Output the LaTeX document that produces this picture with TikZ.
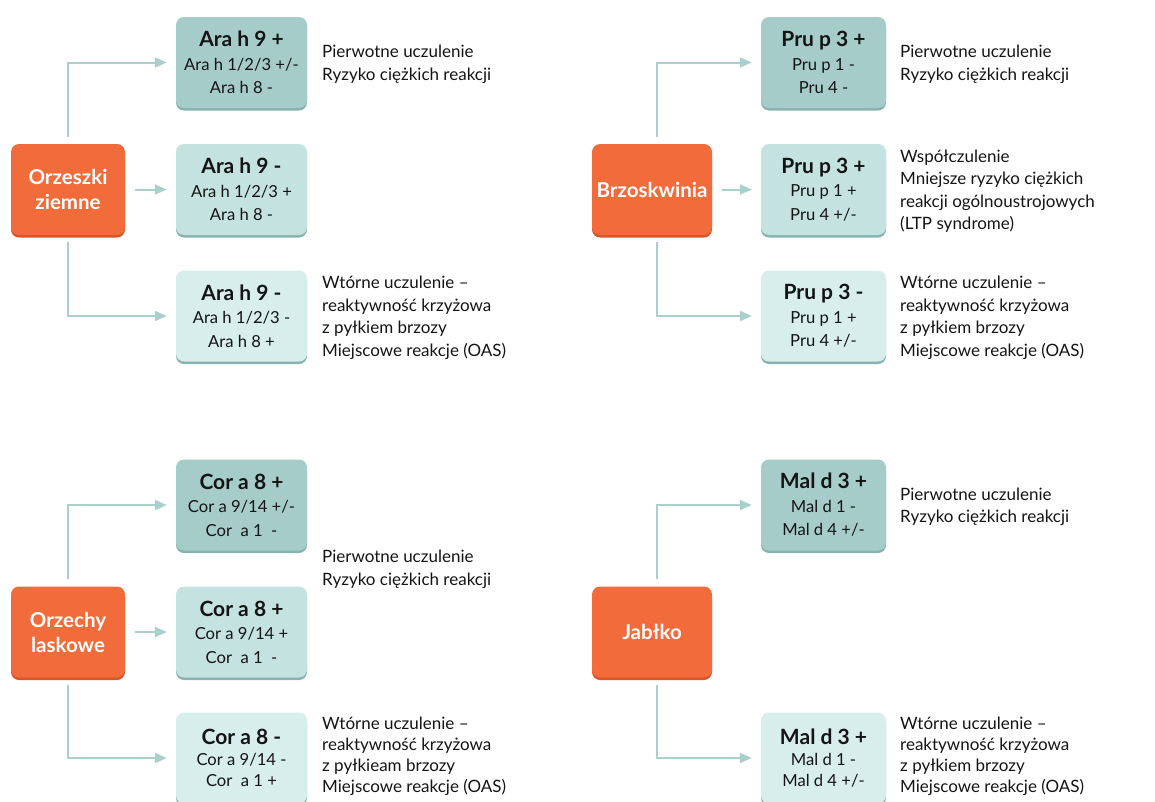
\documentclass[tikz,border=0pt]{standalone}
\usepackage{fontspec}
\setmainfont{Lato}
\usetikzlibrary{arrows.meta}
\definecolor{orng}{HTML}{F26B3B}
\definecolor{orngdark}{HTML}{D8542A}
\definecolor{tealA}{HTML}{A6CCC9}
\definecolor{tealB}{HTML}{C4E2DF}
\definecolor{tealC}{HTML}{D7EEEB}
\definecolor{tealshadow}{HTML}{86B3AF}
\definecolor{conncol}{HTML}{A9D0CD}
\definecolor{txt}{HTML}{141414}
\tikzset{
  base/.style={rounded corners=8pt, inner sep=0pt, align=center, minimum height=91pt,
    preaction={fill=#1, transform canvas={yshift=-2.5pt}}},
  food/.style={base=orngdark, fill=orng, text=white, font=\fontsize{20.5}{25}\selectfont\bfseries},
  resA/.style={base=tealshadow, fill=tealA, text=txt, font=\fontsize{16.6}{23.5}\selectfont},
  resB/.style={base=tealshadow, fill=tealB, text=txt, font=\fontsize{16.6}{23.5}\selectfont},
  resC/.style={base=tealshadow, fill=tealC, text=txt, font=\fontsize{16.6}{23.5}\selectfont},
  note/.style={anchor=west, align=left, inner sep=0pt, text=txt, font=\fontsize{17}{22.5}\selectfont},
  conn/.style={draw=conncol, line width=2pt, -{Triangle[length=12pt,width=10pt]}},
}
\newcommand{\hd}[1]{{\fontsize{21}{23.5}\selectfont\bfseries #1}}
\begin{document}
\begin{tikzpicture}[x=1pt,y=-1pt]
\useasboundingbox (0,0) rectangle (1155,801);
% ---------- Orzeszki ziemne ----------
\node[food, minimum width=114pt] (oz) at (68,189.5) {Orzeszki\\ziemne};
\node[resA, minimum width=131pt] (a1) at (241.5,62.5) {\hd{Ara h 9 +}\\Ara h 1/2/3 +/-\\Ara h 8 -};
\node[resB, minimum width=131pt] (a2) at (241.5,189.5) {\hd{Ara h 9 -}\\Ara h 1/2/3 +\\Ara h 8 -};
\node[resC, minimum width=131pt] (a3) at (241.5,316) {\hd{Ara h 9 -}\\Ara h 1/2/3 -\\Ara h 8 +};
\node[note] (ta1) at (322,64.5) {Pierwotne uczulenie\\Ryzyko ciężkich reakcji};
\node[note] (ta3) at (322,318) {Wtórne uczulenie –\\reaktywność krzyżowa\\z pyłkiem brzozy\\Miejscowe reakcje (OAS)};
\draw[conn, shorten <=7pt, shorten >=9pt] (oz.north) |- (a1.west);
\draw[conn, shorten <=10pt, shorten >=9pt] (oz.east) -- (a2.west);
\draw[conn, shorten <=7pt, shorten >=9pt] (oz.south) |- (a3.west);
% ---------- Brzoskwinia ----------
\node[food, minimum width=120pt] (br) at (652,189.5) {Brzoskwinia};
\node[resA, minimum width=125pt] (p1) at (823.5,62.5) {\hd{Pru p 3 +}\\Pru p 1 -\\Pru 4 -};
\node[resB, minimum width=125pt] (p2) at (823.5,189.5) {\hd{Pru p 3 +}\\Pru p 1 +\\Pru 4 +/-};
\node[resC, minimum width=125pt] (p3) at (823.5,316) {\hd{Pru p 3 -}\\Pru p 1 +\\Pru 4 +/-};
\node[note] (tp1) at (900,64.5) {Pierwotne uczulenie\\Ryzyko ciężkich reakcji};
\node[note] (tp2) at (900,191) {Współczulenie\\Mniejsze ryzyko ciężkich\\reakcji ogólnoustrojowych\\(LTP syndrome)};
\node[note] (tp3) at (900,318) {Wtórne uczulenie –\\reaktywność krzyżowa\\z pyłkiem brzozy\\Miejscowe reakcje (OAS)};
\draw[conn, shorten <=7pt, shorten >=9pt] ([xshift=5pt]br.north) |- (p1.west);
\draw[conn, shorten <=10pt, shorten >=9pt] (br.east) -- (p2.west);
\draw[conn, shorten <=7pt, shorten >=9pt] ([xshift=5pt]br.south) |- (p3.west);
% ---------- Orzechy laskowe ----------
\node[food, minimum width=114pt] (ol) at (68,632) {Orzechy\\laskowe};
\node[resA, minimum width=131pt] (c1) at (241.5,505) {\hd{Cor a 8 +}\\Cor a 9/14 +/-\\Cor~ a 1~ -};
\node[resB, minimum width=131pt] (c2) at (241.5,632) {\hd{Cor a 8 +}\\Cor a 9/14 +\\Cor~ a 1~ -};
\node[resC, minimum width=131pt, font=\fontsize{16.6}{21}\selectfont] (c3) at (241.5,758) {\hd{Cor a 8 -}\\Cor a 9/14 -\\Cor~ a 1 +};
\node[note] (tc1) at (322,569.5) {Pierwotne uczulenie\\Ryzyko ciężkich reakcji};
\node[note, font=\fontsize{17}{21}\selectfont] (tc3) at (322,756) {Wtórne uczulenie –\\reaktywność krzyżowa\\z pyłkieam brzozy\\Miejscowe reakcje (OAS)};
\draw[conn, shorten <=7pt, shorten >=9pt] (ol.north) |- (c1.west);
\draw[conn, shorten <=10pt, shorten >=9pt] (ol.east) -- (c2.west);
\draw[conn, shorten <=7pt, shorten >=9pt] (ol.south) |- (c3.west);
% ---------- Jabłko ----------
\node[food, minimum width=120pt] (jb) at (652,632) {Jabłko};
\node[resA, minimum width=125pt] (m1) at (823.5,505) {\hd{Mal d 3 +}\\Mal d 1 -\\Mal d 4 +/-};
\node[resC, minimum width=125pt, font=\fontsize{16.6}{21}\selectfont] (m3) at (823.5,758) {\hd{Mal d 3 +}\\Mal d 1 -\\Mal d 4 +/-};
\node[note] (tm1) at (900,507) {Pierwotne uczulenie\\Ryzyko ciężkich reakcji};
\node[note, font=\fontsize{17}{21}\selectfont] (tm3) at (900,756) {Wtórne uczulenie –\\reaktywność krzyżowa\\z pyłkiem brzozy\\Miejscowe reakcje (OAS)};
\draw[conn, shorten <=7pt, shorten >=9pt] ([xshift=5pt]jb.north) |- (m1.west);
\draw[conn, shorten <=7pt, shorten >=9pt] ([xshift=5pt]jb.south) |- (m3.west);
\end{tikzpicture}
\end{document}
